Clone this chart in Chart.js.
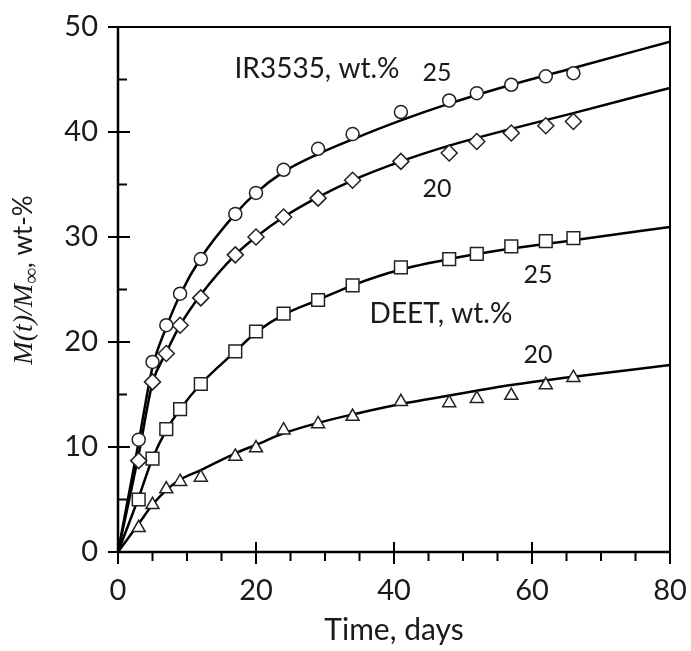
<!DOCTYPE html>
<html>
<head>
<meta charset="utf-8">
<script src="https://cdn.jsdelivr.net/npm/chart.js@4.4.0/dist/chart.umd.min.js"></script>
<style>
  html, body { margin: 0; padding: 0; background: #fff; }
</style>
</head>
<body>
<canvas id="chart" width="691" height="651"></canvas>
<script>
// measured release, wt-% (markers)
var days = [3, 5, 7, 9, 12, 17, 20, 24, 29, 34, 41, 48, 52, 57, 62, 66];
var ir25 = [10.7, 18.1, 21.6, 24.6, 27.9, 32.2, 34.2, 36.4, 38.4, 39.8, 41.9, 43.0, 43.7, 44.5, 45.3, 45.6];
var ir20 = [8.7, 16.2, 18.9, 21.6, 24.2, 28.3, 30.0, 31.9, 33.7, 35.4, 37.2, 38.0, 39.1, 39.9, 40.6, 41.0];
var deet25 = [5.0, 8.9, 11.7, 13.6, 16.0, 19.1, 21.0, 22.7, 24.0, 25.4, 27.1, 27.9, 28.4, 29.1, 29.6, 29.9];
var deet20 = [2.3, 4.5, 6.0, 6.7, 7.1, 9.1, 9.9, 11.6, 12.2, 12.9, 14.3, 14.2, 14.6, 14.9, 15.9, 16.6];

// fitted curves
var fitDays = [0, 3, 5, 7, 9, 12, 17, 20, 24, 29, 34, 41, 48, 57, 66, 80];
var fitIr25 = [0, 10.5, 17.6, 21.4, 24.5, 28.0, 32.2, 34.2, 36.2, 37.9, 39.3, 41.1, 42.7, 44.5, 46.1, 48.6];
var fitIr20 = [0, 9.3, 16.1, 19.0, 21.6, 24.5, 28.3, 30.0, 31.9, 33.8, 35.4, 37.2, 38.7, 40.3, 41.8, 44.2];
var fitDeet25 = [0, 5.2, 8.9, 11.6, 13.6, 16.0, 19.1, 20.9, 22.6, 24.0, 25.4, 26.9, 27.9, 28.9, 29.7, 30.95];
var fitDeet20 = [0, 2.7, 4.5, 5.9, 6.9, 7.8, 9.4, 10.2, 11.3, 12.3, 13.1, 14.1, 14.9, 15.9, 16.7, 17.8];

var xTicks = [0, 20, 40, 60, 80];
var yTicks = [0, 10, 20, 30, 40, 50];

function pts(xs, ys) {
  return xs.map(function (x, i) { return { x: x, y: ys[i] }; });
}

function markers(data, style, r) {
  return {
    data: pts(days, data),
    showLine: false,
    pointStyle: style,
    pointRadius: r,
    pointBackgroundColor: '#fff',
    pointBorderColor: '#222',
    pointBorderWidth: 1.5
  };
}

function fit(data) {
  return {
    data: pts(fitDays, data),
    showLine: true,
    pointRadius: 0,
    borderColor: '#000',
    borderWidth: 2.5,
    cubicInterpolationMode: 'monotone'
  };
}

var textColor = '#1a1a1a';
var sans = 'Lato';

// frame, ticks and text drawn by hand
var decor = {
  id: 'decor',
  beforeDatasetsDraw: function (chart) {
    var c = chart.ctx, a = chart.chartArea;
    var xs = chart.scales.x, ys = chart.scales.y;
    c.save();
    c.strokeStyle = '#000';
    c.lineWidth = 2;
    c.beginPath();
    c.moveTo(a.left, a.top); c.lineTo(a.right, a.top);
    c.lineTo(a.right, a.bottom);
    c.stroke();
    c.lineWidth = 2.5;
    c.beginPath();
    c.moveTo(a.left, a.top); c.lineTo(a.left, a.bottom); c.lineTo(a.right, a.bottom);
    c.stroke();
    c.lineWidth = 2;
    for (var v = 0; v <= 80; v += 5) {
      var px = xs.getPixelForValue(v);
      c.beginPath();
      if (v % 20 === 0) { c.moveTo(px, a.bottom - 10); c.lineTo(px, a.bottom + 12); }
      else { c.moveTo(px, a.bottom); c.lineTo(px, a.bottom + 9); }
      c.stroke();
    }
    for (var w = 0; w <= 50; w += 5) {
      var py = ys.getPixelForValue(w);
      c.beginPath();
      if (w % 10 === 0) { c.moveTo(a.left - 10, py); c.lineTo(a.left + 12, py); }
      else { c.moveTo(a.left, py); c.lineTo(a.left + 9, py); }
      c.stroke();
    }
    c.restore();
  },
  afterDraw: function (chart) {
    var c = chart.ctx;
    c.save();
    c.fillStyle = textColor;
    c.textBaseline = 'alphabetic';
    c.textAlign = 'center';
    c.font = '28px ' + sans;
    c.fillText('IR3535, wt.%', 317, 78);
    c.fillText('DEET, wt.%', 441, 323);
    c.font = '25px ' + sans;
    c.fillText('25', 437, 81);
    c.fillText('20', 437, 197);
    c.fillText('25', 538, 283);
    c.fillText('20', 538, 363);
    c.font = '30px ' + sans;
    c.fillText('Time, days', 394, 640);

    // y title: M(t)/M∞, wt-%
    c.translate(32, 280);
    c.rotate(-Math.PI / 2);
    var parts = [
      { t: 'M(t)/M', f: 'italic 28px "Liberation Serif"', dy: 0 },
      { t: '\u221E', f: 'italic 22px "Liberation Serif"', dy: 6 },
      { t: ', wt-%', f: '26px ' + sans, dy: 0 }
    ];
    var total = 0;
    parts.forEach(function (p) { c.font = p.f; p.w = c.measureText(p.t).width; total += p.w; });
    var x = -total / 2;
    c.textAlign = 'left';
    parts.forEach(function (p) { c.font = p.f; c.fillText(p.t, x, p.dy); x += p.w; });
    c.restore();
  }
};

new Chart(document.getElementById('chart'), {
  type: 'scatter',
  data: {
    datasets: [
      markers(ir25, 'circle', 6.5),
      markers(ir20, 'rectRot', 8),
      markers(deet25, 'rect', 9),
      markers(deet20, 'triangle', 7.5),
      fit(fitIr25),
      fit(fitIr20),
      fit(fitDeet25),
      fit(fitDeet20)
    ]
  },
  options: {
    responsive: false,
    animation: false,
    layout: { padding: { top: 27, right: 21, left: 0, bottom: 0 } },
    plugins: { legend: { display: false }, tooltip: { enabled: false } },
    scales: {
      x: {
        type: 'linear', min: 0, max: 80,
        afterBuildTicks: function (s) { s.ticks = xTicks.map(function (v) { return { value: v }; }); },
        afterFit: function (s) { s.height = 99; s.paddingLeft = 0; s.paddingRight = 0; },
        grid: { display: false },
        border: { display: false },
        ticks: { color: textColor, font: { family: sans, size: 29 }, padding: 13, maxRotation: 0 }
      },
      y: {
        type: 'linear', min: 0, max: 50,
        afterBuildTicks: function (s) { s.ticks = yTicks.map(function (v) { return { value: v }; }); },
        afterFit: function (s) { s.width = 118; s.paddingTop = 0; s.paddingBottom = 0; },
        grid: { display: false },
        border: { display: false },
        ticks: { color: textColor, font: { family: sans, size: 29 }, padding: 12 }
      }
    }
  },
  plugins: [decor]
});
</script>
</body>
</html>
